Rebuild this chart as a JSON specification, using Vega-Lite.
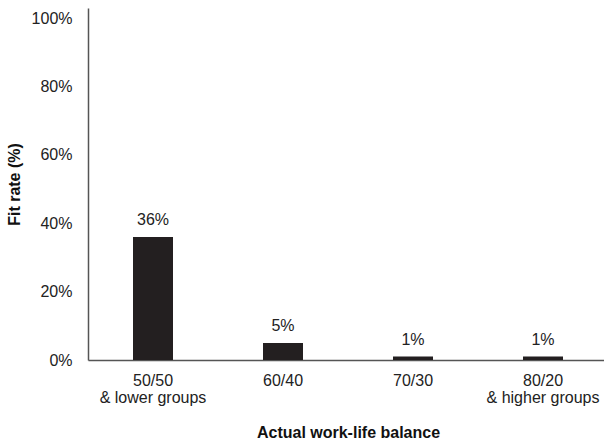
{
  "$schema": "https://vega.github.io/schema/vega-lite/v6.json",
  "autosize": {"type": "none"},
  "padding": {"left": 88, "top": 8, "right": 0, "bottom": 81},
  "width": 520,
  "height": 352,
  "background": "white",
  "config": {
    "view": {"stroke": null},
    "font": "Liberation Sans",
    "axis": {"grid": false, "ticks": false, "domainColor": "#555555", "domainWidth": 1.5, "labelColor": "#222222", "titleColor": "#111111", "labelFont": "Liberation Sans", "titleFont": "Liberation Sans"}
  },
  "data": {
    "values": [
      {"group": "50/50|& lower groups", "rate": 0.36, "label": "36%"},
      {"group": "60/40", "rate": 0.05, "label": "5%"},
      {"group": "70/30", "rate": 0.01, "label": "1%"},
      {"group": "80/20|& higher groups", "rate": 0.01, "label": "1%"}
    ]
  },
  "encoding": {
    "x": {
      "field": "group", "type": "nominal", "sort": null,
      "title": "Actual work-life balance",
      "axis": {"labelAngle": 0, "labelExpr": "split(datum.label, '|')", "labelFontSize": 16, "labelLineHeight": 17, "labelPadding": 12, "labelBaseline": "top", "titleFontSize": 16, "titleFontWeight": "bold", "titlePadding": 19}
    },
    "y": {
      "field": "rate", "type": "quantitative",
      "scale": {"domain": [0, 1.03], "nice": false},
      "title": "Fit rate (%)",
      "axis": {"values": [0, 0.2, 0.4, 0.6, 0.8, 1.0], "format": ".0%", "labelFontSize": 16, "labelPadding": 16, "titleFontSize": 16, "titleFontWeight": "bold", "titlePadding": 9}
    }
  },
  "layer": [
    {"mark": {"type": "bar", "size": 40, "color": "#231f20"}},
    {"mark": {"type": "text", "baseline": "bottom", "dy": -9, "fontSize": 16, "color": "#222222", "font": "Liberation Sans"}, "encoding": {"text": {"field": "label"}}}
  ]
}
